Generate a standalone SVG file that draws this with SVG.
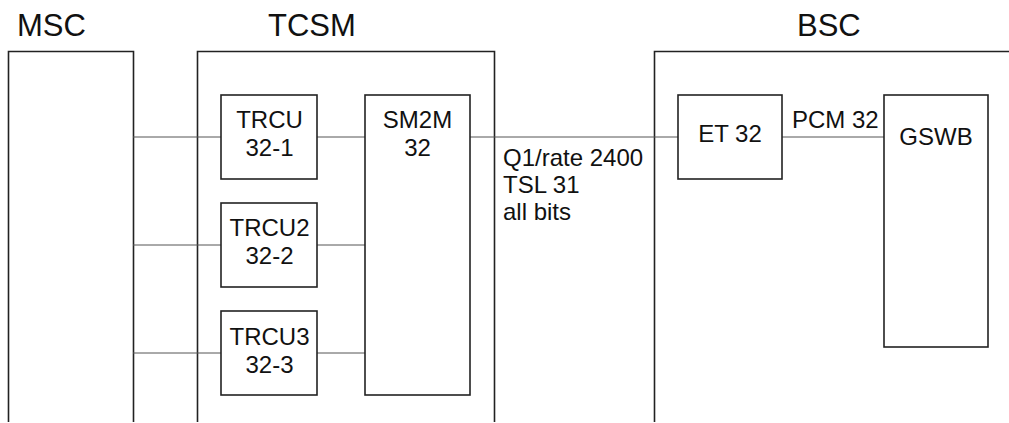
<svg xmlns="http://www.w3.org/2000/svg" width="1009" height="423" viewBox="0 0 1009 423">
<style>
.box{fill:#fff;stroke:#222;stroke-width:1.6}
.outer{fill:none;stroke:#222;stroke-width:1.6}
.conn{stroke:#555;stroke-width:1;fill:none}
.t{font-family:"Liberation Sans",Arial,sans-serif;font-size:24px;fill:#111}
.tc{text-anchor:middle}
.h{font-family:"Liberation Sans",Arial,sans-serif;font-size:31px;fill:#111}
</style>
<rect width="1009" height="423" fill="#fff"/>
<g id="MSC">
<path class="outer" d="M8.5,422 V51.5 H133.5 V422"/>
<text class="h" x="17" y="36">MSC</text>
</g>
<g id="TCSM">
<path class="outer" d="M197.5,422 V51.5 H494.5 V422"/>
<text class="h" x="268" y="36">TCSM</text>
</g>
<g id="BSC">
<path class="outer" d="M654.5,422 V51.5 H1009"/>
<text class="h" x="797" y="36">BSC</text>
</g>
<g id="connectors">
<line class="conn" x1="133" y1="137" x2="221" y2="137"/>
<line class="conn" x1="133" y1="245" x2="221" y2="245"/>
<line class="conn" x1="133" y1="353" x2="221" y2="353" stroke="#111"/>
<line class="conn" x1="317" y1="137" x2="365" y2="137"/>
<line class="conn" x1="317" y1="245" x2="365" y2="245"/>
<line class="conn" x1="317" y1="353" x2="365" y2="353" stroke="#111"/>
<line class="conn" x1="470" y1="137" x2="678" y2="137"/>
<line class="conn" x1="782" y1="137" x2="884" y2="137"/>
<text class="t" x="503" y="166">Q1/rate 2400</text>
<text class="t" x="503" y="193">TSL 31</text>
<text class="t" x="503" y="220">all bits</text>
<text class="t" x="792" y="128">PCM 32</text>
</g>
<g id="TRCU1">
<rect class="box" x="221" y="95" width="96" height="84"/>
<text class="t tc" x="269.5" y="128">TRCU</text>
<text class="t tc" x="269.5" y="156">32-1</text>
</g>
<g id="TRCU2">
<rect class="box" x="221" y="203" width="96" height="84"/>
<text class="t tc" x="269.5" y="236">TRCU2</text>
<text class="t tc" x="269.5" y="264">32-2</text>
</g>
<g id="TRCU3">
<rect class="box" x="221" y="311" width="96" height="84"/>
<text class="t tc" x="269.5" y="345">TRCU3</text>
<text class="t tc" x="269.5" y="373">32-3</text>
</g>
<g id="SM2M">
<rect class="box" x="365" y="95" width="105" height="300"/>
<text class="t tc" x="417.5" y="128">SM2M</text>
<text class="t tc" x="417.5" y="156">32</text>
</g>
<g id="ET32">
<rect class="box" x="678" y="95" width="104" height="84"/>
<text class="t tc" x="730" y="142">ET 32</text>
</g>
<g id="GSWB">
<rect class="box" x="884" y="95" width="104" height="252"/>
<text class="t tc" x="936" y="145">GSWB</text>
</g>
</svg>
